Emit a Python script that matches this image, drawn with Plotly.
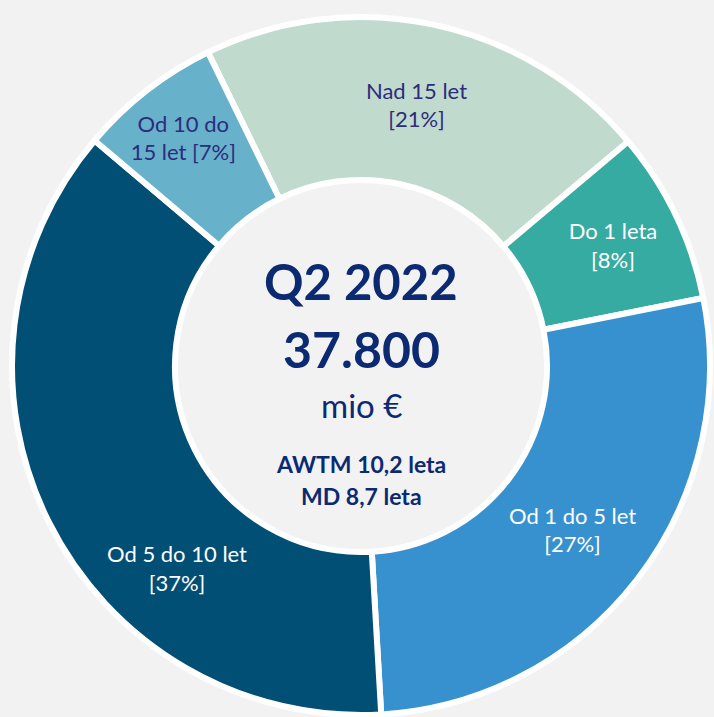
import plotly.graph_objects as go

# Data
categories = ["Nad 15 let", "Do 1 leta", "Od 1 do 5 let", "Od 5 do 10 let", "Od 10 do 15 let"]
label_lines = ["Nad 15 let<br>", "Do 1 leta<br>", "Od 1 do 5 let<br>", "Od 5 do 10 let<br>", "Od 10 do<br>15 let "]
shares = [21.1, 8.0, 27.2, 37.1, 6.6]

slice_colors = ["#c0dacd", "#36aba2", "#3891cf", "#024f75", "#67b1ca"]
text_colors = ["#2e2c7c", "#ffffff", "#ffffff", "#ffffff", "#2e2c7c"]

center_lines = ["Q2 2022", "37.800", "mio €", "AWTM 10,2 leta", "MD 8,7 leta"]

W, H = 714, 717
cx, cy, R = 361, 366, 349  # pixel layout of the donut

# the large slice's label sits off its mid-angle in the reference; place it separately
text_pos = ["inside", "inside", "inside", "none", "inside"]
big_label_px = (177, 568)

fig = go.Figure(go.Pie(
    labels=categories,
    values=shares,
    text=label_lines,
    texttemplate="%{text}[%{percent:.0%}]",
    textposition=text_pos,
    insidetextorientation="horizontal",
    textfont=dict(family="Lato", size=22, color=text_colors),
    sort=False,
    direction="clockwise",
    rotation=-26,
    hole=0.533,
    marker=dict(colors=slice_colors, line=dict(color="white", width=6)),
    domain=dict(x=[(cx - R) / W, (cx + R) / W], y=[(H - cy - R) / H, (H - cy + R) / H]),
    showlegend=False,
    hoverinfo="label+percent",
))

i_big = 3
fig.add_annotation(
    x=big_label_px[0] / W, y=(H - big_label_px[1]) / H, xref="paper", yref="paper",
    xanchor="center", yanchor="middle", showarrow=False,
    text=f"{label_lines[i_big]}[{round(shares[i_big] / sum(shares) * 100)}%]",
    font=dict(family="Lato", size=22, color=text_colors[i_big]),
)

navy = "#0b2a72"
center_specs = [
    (center_lines[0], 281, 49, True),
    (center_lines[1], 349, 50, True),
    (center_lines[2], 405, 33, False),
    (center_lines[3], 464, 23, True),
    (center_lines[4], 496, 23, True),
]
for txt, ypx, size, bold in center_specs:
    fig.add_annotation(
        x=cx / W, y=(H - ypx) / H, xref="paper", yref="paper",
        xanchor="center", yanchor="middle", showarrow=False,
        text=f"<b>{txt}</b>" if bold else txt,
        font=dict(family="Lato", size=size, color=navy),
    )

fig.update_layout(
    width=W, height=H,
    margin=dict(l=0, r=0, t=0, b=0),
    paper_bgcolor="#f2f2f2",
    plot_bgcolor="#f2f2f2",
)

fig.write_html(
    "out.html",
    config={"displayModeBar": False},
    post_script="document.body.style.margin='0';document.body.style.overflow='hidden';",
)
